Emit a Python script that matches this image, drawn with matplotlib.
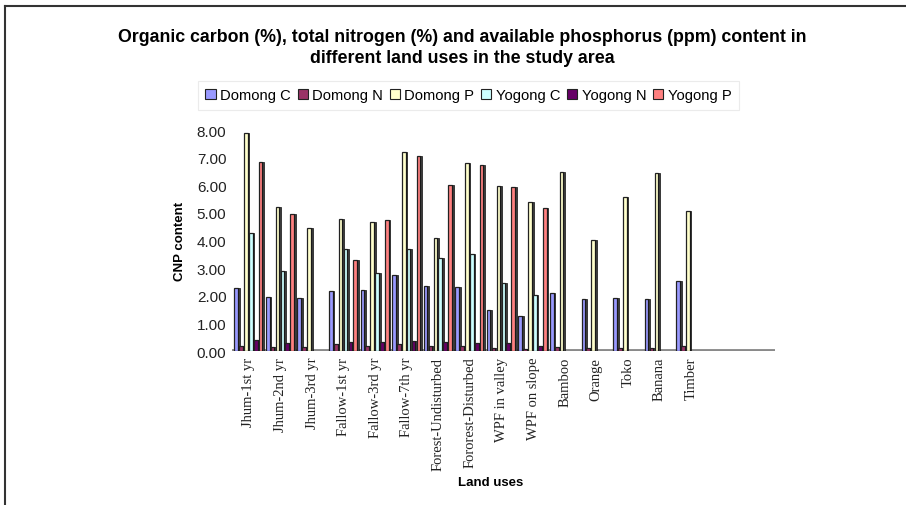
import numpy as np
import matplotlib
matplotlib.use("Agg")
import matplotlib.pyplot as plt
from matplotlib.lines import Line2D
from matplotlib.patches import Patch

# Land uses (x categories)
land_uses = ['Jhum-1st yr', 'Jhum-2nd yr', 'Jhum-3rd yr', 'Fallow-1st yr', 'Fallow-3rd yr',
             'Fallow-7th yr', 'Forest-Undisturbed', 'Fororest-Disturbed', 'WPF in valley',
             'WPF on slope', 'Bamboo', 'Orange', 'Toko', 'Banana', 'Timber']

# values
domong_c = [2.28, 1.95, 1.92, 2.18, 2.22, 2.76, 2.36, 2.32, 1.50, 1.28, 2.09, 1.88, 1.92, 1.88, 2.53]
domong_n = [0.18, 0.15, 0.15, 0.25, 0.20, 0.25, 0.18, 0.18, 0.10, 0.08, 0.15, 0.12, 0.12, 0.10, 0.20]
domong_p = [7.90, 5.22, 4.45, 4.80, 4.68, 7.20, 4.08, 6.80, 5.99, 5.39, 6.50, 4.03, 5.57, 6.45, 5.06]
yogong_c = [4.28, 2.90, 0, 3.68, 2.82, 3.70, 3.36, 3.51, 2.45, 2.04, 0, 0, 0, 0, 0]
yogong_n = [0.42, 0.30, 0, 0.35, 0.32, 0.38, 0.32, 0.30, 0.30, 0.20, 0, 0, 0, 0, 0]
yogong_p = [6.85, 4.98, 0, 3.30, 4.73, 7.05, 6.03, 6.72, 5.93, 5.17, 0, 0, 0, 0, 0]

series_names = ['Domong C', 'Domong N', 'Domong P', 'Yogong C', 'Yogong N', 'Yogong P']
series_colors = ['#9999FF', '#993366', '#FFFFCC', '#CCFFFF', '#660066', '#FF8080']
yticks = [0, 1, 2, 3, 4, 5, 6, 7, 8]

SANS = 'Liberation Sans'
SERIF = 'Liberation Serif'

fig = plt.figure(figsize=(9.06, 5.06), dpi=100)
ax = fig.add_axes([0.256, 0.304, 0.599, 0.437])

x = np.arange(len(land_uses))
slot = 0.155
face_w = 0.115
side_w = 0.055
all_series = [domong_c, domong_n, domong_p, yogong_c, yogong_n, yogong_p]

# floor of the 3d chart
ax.axhline(0, color='#8a8a8a', lw=3.5, zorder=1)

for i, (vals, col) in enumerate(zip(all_series, series_colors)):
    vals = np.array(vals)
    left = x - 3 * slot + i * slot
    mask = vals > 0
    ax.bar(left[mask], vals[mask], width=face_w, align='edge', color=col,
           edgecolor='#222222', linewidth=0.9, zorder=3 + i * 0.01)
    # dark side face to fake the 3d look
    ax.bar(left[mask] + face_w, vals[mask], width=side_w, align='edge', color='#3a3a3a',
           edgecolor='#111111', linewidth=0.5, zorder=3 + i * 0.01)

ax.set_xlim(-0.54, 16.65)
ax.set_ylim(0, 8)
ax.set_yticks(yticks)
ax.set_yticklabels([f'{v:.2f}' for v in yticks], fontsize=11, family=SANS, color='#222222')
ax.set_xticks(x)
ax.set_xticklabels(land_uses, rotation=90, fontsize=10.5, family=SERIF, color='#222222')
ax.tick_params(axis='both', length=0, pad=4)
for s in ax.spines.values():
    s.set_visible(False)

ax.set_ylabel('CNP content', fontsize=9.5, fontweight='bold', family=SANS, labelpad=8)
fig.text(0.541, 0.045, 'Land uses', ha='center', va='center', fontsize=9.5,
         fontweight='bold', family=SANS)

fig.text(0.51, 0.905, 'Organic carbon (%), total nitrogen (%) and available phosphorus (ppm) content in\n'
         'different land uses in the study area', ha='center', va='center',
         fontsize=12.8, fontweight='bold', family=SANS, linespacing=1.3)

handles = [Patch(facecolor=c, edgecolor='#222222', linewidth=0.8) for c in series_colors]
leg = fig.legend(handles, series_names, loc='center', bbox_to_anchor=(0.517, 0.81), ncol=6,
                 frameon=True, handlelength=0.7, handleheight=0.7,
                 handletextpad=0.3, columnspacing=0.45, borderpad=0.3,
                 prop={'family': SANS, 'size': 10.6})
leg.get_frame().set_edgecolor('#e6e6e6')
leg.get_frame().set_linewidth(0.8)
leg.get_frame().set_boxstyle('square', pad=0.2)

# outer frame lines (top and left only visible)
fig.add_artist(Line2D([0.006, 1.0], [0.987, 0.987], transform=fig.transFigure, color='#333333', lw=1.5))
fig.add_artist(Line2D([0.006, 0.006], [0.0, 0.987], transform=fig.transFigure, color='#333333', lw=1.5))

fig.savefig('out.png', dpi=100)
